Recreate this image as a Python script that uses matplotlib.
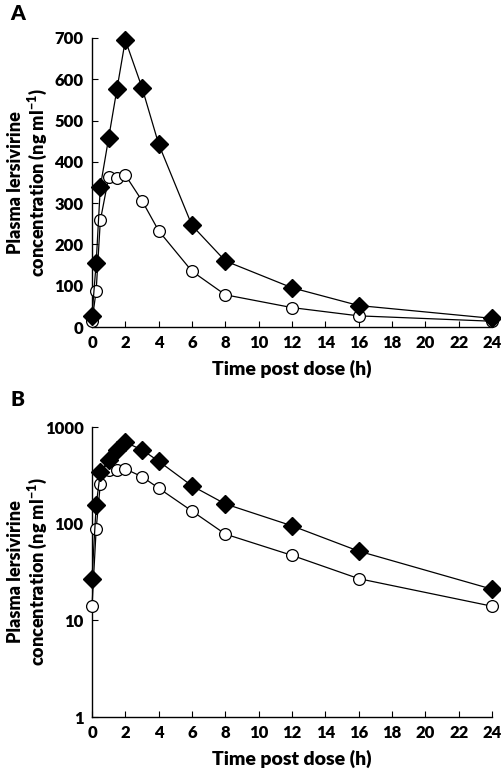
import numpy as np
import matplotlib.pyplot as plt
from matplotlib.ticker import FixedLocator, NullLocator, FixedFormatter

plt.rcParams['font.family'] = ['Lato', 'DejaVu Sans']
plt.rcParams['font.weight'] = 'heavy'
plt.rcParams['mathtext.fontset'] = 'custom'
plt.rcParams['mathtext.rm'] = 'Lato:heavy'
plt.rcParams['mathtext.default'] = 'rm'

# ---- data ----
time_h = [0, 0.25, 0.5, 1, 1.5, 2, 3, 4, 6, 8, 12, 16, 24]
conc_diamond = [27, 155, 340, 458, 577, 695, 580, 443, 246, 160, 95, 52, 21]
conc_circle = [14, 88, 258, 363, 362, 368, 306, 233, 135, 78, 47, 27, 14]

x_ticks = [0, 2, 4, 6, 8, 10, 12, 14, 16, 18, 20, 22, 24]
y_ticks_lin = [0, 100, 200, 300, 400, 500, 600, 700]
y_ticks_log = [1, 10, 100, 1000]
y_ticklabels_log = ['1', '10', '100', '1000']

ylabel = 'Plasma lersivirine\nconcentration (ng ml$^{-1}$)'
xlabel = 'Time post dose (h)'

fig = plt.figure(figsize=(5.01, 7.70), dpi=100)
W, H = 501, 770
axA = fig.add_axes([92 / W, (H - 327) / H, 400 / W, 289 / H])
axB = fig.add_axes([92 / W, (H - 717) / H, 400 / W, 290 / H])


def draw(ax):
    ax.plot(time_h, conc_circle, color='black', lw=0.9, marker='o', ms=8.5,
            mfc='white', mec='black', mew=0.9, clip_on=False, zorder=3)
    ax.plot(time_h, conc_diamond, color='black', lw=0.9, marker='D', ms=9,
            mfc='black', mec='black', clip_on=False, zorder=4)
    ax.set_xlim(0, 24)
    ax.xaxis.set_major_locator(FixedLocator(x_ticks))
    for s in ['top', 'right']:
        ax.spines[s].set_visible(False)
    for s in ['left', 'bottom']:
        ax.spines[s].set_linewidth(1.0)
    ax.tick_params(direction='in', length=4, width=0.8, labelsize=12, pad=6)
    ax.set_xlabel(xlabel, fontsize=14, fontweight='heavy', labelpad=6)
    ax.set_ylabel(ylabel, fontsize=13, fontweight='heavy', linespacing=1.05,
                  va='center', ha='center')
    ax.yaxis.set_label_coords(-0.16, 0.5)


draw(axA)
axA.set_ylim(0, 700)
axA.yaxis.set_major_locator(FixedLocator(y_ticks_lin))

draw(axB)
axB.set_yscale('log')
axB.set_ylim(1, 1000)
axB.yaxis.set_major_locator(FixedLocator(y_ticks_log))
axB.yaxis.set_major_formatter(FixedFormatter(y_ticklabels_log))
axB.yaxis.set_minor_locator(NullLocator())

for ax in (axA, axB):
    for lab in ax.get_xticklabels() + ax.get_yticklabels():
        lab.set_fontweight('heavy')

fig.text(10 / W, 1 - 14 / H, 'A', fontsize=15, fontweight='heavy', va='center')
fig.text(10 / W, 1 - 399 / H, 'B', fontsize=15, fontweight='heavy', va='center')

fig.savefig('out.png', dpi=100)
